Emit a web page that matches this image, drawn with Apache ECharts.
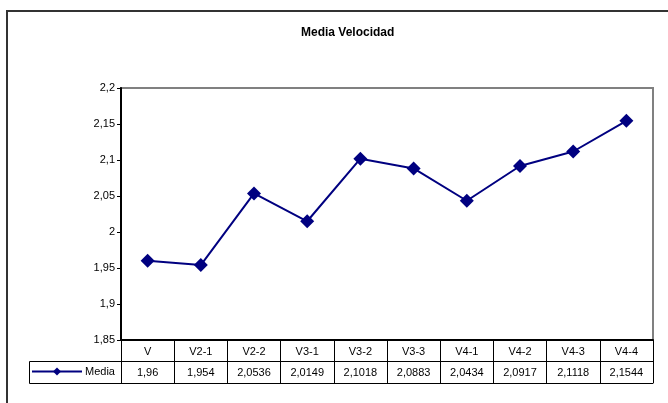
<!DOCTYPE html>
<html>
<head>
<meta charset="utf-8">
<script src="https://cdn.jsdelivr.net/npm/echarts@6/dist/echarts.min.js"></script>
<style>
  html, body { margin: 0; padding: 0; background: #fff; }
  #chart { width: 668px; height: 403px; }
</style>
</head>
<body>
<div id="chart"></div>
<script>
// Average speed per test run
const categories = ['V', 'V2-1', 'V2-2', 'V3-1', 'V3-2', 'V3-3', 'V4-1', 'V4-2', 'V4-3', 'V4-4'];
const media = [1.96, 1.954, 2.0536, 2.0149, 2.1018, 2.0883, 2.0434, 2.0917, 2.1118, 2.1544];
const seriesName = 'Media';
const yMin = 1.85, yMax = 2.2, yStep = 0.05;

const FONT = 'Liberation Sans';
const comma = v => String(v).replace('.', ',');

const chart = echarts.init(document.getElementById('chart'), null, { renderer: 'canvas' });

const baseX = {
  type: 'category',
  data: categories,
  position: 'bottom',
  boundaryGap: true,
  splitLine: { show: false }
};

chart.setOption({
  animation: false,
  backgroundColor: '#fff',
  title: {
    text: 'Media Velocidad',
    left: 296,
    top: 22,
    textStyle: { fontFamily: FONT, fontSize: 12, fontWeight: 'bold', color: '#000' }
  },
  legend: {
    data: [seriesName],
    left: 26,
    top: 361,
    padding: 5,
    itemWidth: 50,
    itemHeight: 10,
    itemGap: 4,
    lineStyle: { width: 2 },
    textStyle: { fontFamily: FONT, fontSize: 11, color: '#000', padding: [0, 0, 0, -2] }
  },
  grid: {
    left: 121, right: 15, top: 88, bottom: 63,
    show: true, borderColor: '#808080', borderWidth: 2, backgroundColor: 'transparent'
  },
  xAxis: [
    Object.assign({}, baseX, {
      axisLine: { lineStyle: { color: '#000', width: 2 } },
      axisTick: { show: true, inside: false, length: 43, alignWithLabel: false,
                  lineStyle: { color: '#000', width: 1 } },
      axisLabel: { margin: 6, fontFamily: FONT, fontSize: 11, color: '#000', interval: 0 }
    }),
    Object.assign({}, baseX, {
      offset: 21,
      axisLine: { lineStyle: { color: '#000', width: 1 } },
      axisTick: { show: false },
      axisLabel: { margin: 6, fontFamily: FONT, fontSize: 11, color: '#000', interval: 0,
                   formatter: (v, i) => comma(media[i]) }
    }),
    Object.assign({}, baseX, {
      offset: 43,
      axisLine: { lineStyle: { color: '#000', width: 1 } },
      axisTick: { show: false },
      axisLabel: { show: false }
    })
  ],
  yAxis: {
    type: 'value',
    min: yMin, max: yMax, interval: yStep,
    axisLine: { show: true, lineStyle: { color: '#000', width: 2 } },
    axisTick: { show: true, length: 4, lineStyle: { color: '#000' } },
    splitLine: { show: false },
    axisLabel: {
      margin: 6, fontFamily: FONT, fontSize: 11, color: '#000',
      formatter: v => comma(Number(v.toFixed(2)))
    }
  },
  series: [{
    name: seriesName,
    type: 'line',
    xAxisIndex: 0,
    data: media,
    symbol: 'diamond',
    symbolSize: 14,
    lineStyle: { color: '#000080', width: 2 },
    itemStyle: { color: '#000080' }
  }],
  graphic: [
    // outer chart frame
    { type: 'rect', shape: { x: 7, y: 11, width: 720, height: 460 },
      style: { fill: 'none', stroke: '#333', lineWidth: 2 }, silent: true },
    // legend cell of the data table
    { type: 'polyline', shape: { points: [[121, 361.5], [29.5, 361.5], [29.5, 383.5], [121, 383.5]] },
      style: { fill: 'none', stroke: '#000', lineWidth: 1 }, silent: true }
  ]
});
</script>
</body>
</html>
